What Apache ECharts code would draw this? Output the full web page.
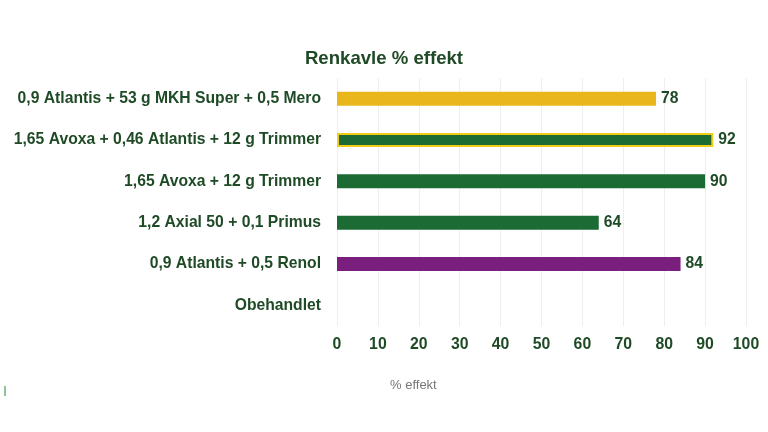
<!DOCTYPE html>
<html>
<head>
<meta charset="utf-8">
<script src="https://cdn.jsdelivr.net/npm/echarts@6/dist/echarts.min.js"></script>
<style>
  html, body { margin: 0; padding: 0; background: #fff; }
  #chart-container { width: 768px; height: 432px; }
</style>
</head>
<body>
<div id="chart-container"></div>
<script>
// data
const categories = [
    "0,9 Atlantis + 53 g MKH Super + 0,5 Mero",
    "1,65 Avoxa + 0,46 Atlantis + 12 g Trimmer",
    "1,65 Avoxa + 12 g Trimmer",
    "1,2 Axial 50 + 0,1 Primus",
    "0,9 Atlantis + 0,5 Renol",
    "Obehandlet"
];
const values = [78, 92, 90, 64, 84, null];
const barColors = ["#e9b71c", "#1c6b34", "#1c6b34", "#1c6b34", "#7a1f7e", "#1c6b34"];
const barBorders = [null, "#f2cc1a", null, null, null, null];

const chart = echarts.init(document.getElementById("chart-container"));
const textColor = "#1f4a26";
const font = "'Liberation Sans'";

const options = {
    title: {
        text: "Renkavle % effekt",
        left: "center",
        top: 44,
        textStyle: {
            fontFamily: font,
            fontSize: 18.6,
            fontWeight: "bold",
            color: textColor
        }
    },
    grid: {
        left: 337,
        right: 22,
        top: 78,
        bottom: 106,
        containLabel: false
    },
    xAxis: {
        type: "value",
        min: 0,
        max: 100,
        interval: 10,
        axisLine: { show: false },
        axisTick: { show: false },
        splitLine: { show: true, lineStyle: { color: "#eeeeee", width: 1 } },
        axisLabel: {
            margin: 11,
            fontFamily: font,
            fontSize: 15.8,
            fontWeight: "bold",
            color: textColor
        }
    },
    yAxis: {
        type: "category",
        inverse: true,
        data: categories,
        axisLine: { show: false },
        axisTick: { show: false },
        axisLabel: {
            margin: 16,
            fontFamily: font,
            fontSize: 15.7,
            fontWeight: "bold",
            color: textColor
        }
    },
    series: [
        {
            type: "bar",
            barWidth: 14,
            data: values.map((v, i) => ({
                value: v,
                itemStyle: {
                    color: barColors[i],
                    borderColor: barBorders[i] || barColors[i],
                    borderWidth: barBorders[i] ? 2 : 0
                }
            })),
            label: {
                show: true,
                position: "right",
                distance: 5,
                fontFamily: font,
                fontSize: 15.7,
                fontWeight: "bold",
                color: textColor
            }
        }
    ],
    graphic: [
        {
            type: "text",
            left: 390,
            top: 379,
            style: {
                text: "% effekt",
                fontFamily: font,
                fontSize: 13,
                fill: "#777777"
            }
        },
        {
            type: "rect",
            left: 4,
            top: 386,
            shape: { width: 2, height: 10 },
            style: { fill: "#8fc49a" }
        }
    ]
};

chart.setOption(options);
</script>
</body>
</html>
